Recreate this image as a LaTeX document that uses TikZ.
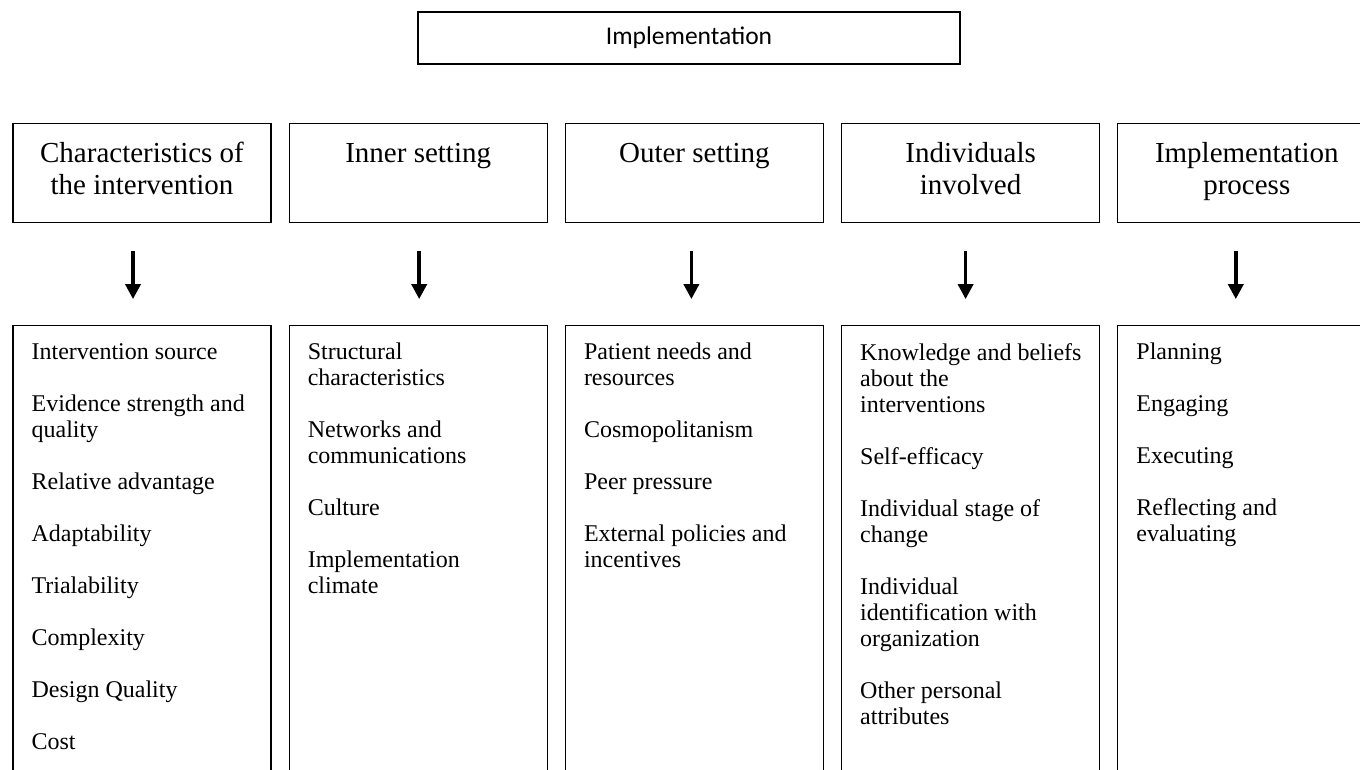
\documentclass[tikz,border=0pt]{standalone}
\usepackage{fontspec}
\setmainfont{Liberation Serif}
\newfontfamily\calib{Carlito}
\usetikzlibrary{positioning,arrows.meta}

\newcommand{\nxt}{\\[\baselineskip]}

\begin{document}
\begin{tikzpicture}[
  x=1pt, y=1pt,
  node distance=102pt and 17pt,
  topbox/.style={draw, line width=1.2pt, minimum width=542pt, minimum height=52pt,
                 inner sep=0pt, font=\calib\fontsize{25.5}{30}\selectfont},
  head/.style={draw, line width=1.2pt, minimum width=258pt, minimum height=99pt,
               inner sep=0pt, align=center, text height=53pt, text depth=10pt,
               font=\fontsize{29}{32}\selectfont},
  col/.style={draw, line width=1.2pt, minimum width=258pt, minimum height=470pt,
              anchor=north},
  items/.style={align=left, anchor=north west, inner sep=0pt,
                font=\fontsize{24}{26}\selectfont},
  arr/.style={-{Triangle[length=15pt, width=15pt]}, line width=3.6pt,
              shorten <=28pt, shorten >=26pt},
]
\clip (0,0) rectangle (1360,-769);

% top title
\node[topbox] (impl) at (689,-38) {Implementation};

% the five domains
\node[head] (h1) at (142,-173) {Characteristics of\\the intervention};
\node[head, right=of h1] (h2) {Inner setting\\~};
\node[head, right=of h2] (h3) {Outer setting\\~};
\node[head, right=of h3] (h4) {Individuals\\involved};
\node[head, right=of h4] (h5) {Implementation\\process};

% constructs under each domain
\foreach \i/\dx in {1/-9,2/1,3/-3,4/-5,5/-11}{
  \node[col, below=of h\i.south] (b\i) {};
  \draw[arr] ([xshift=\dx pt]h\i.south) -- ([xshift=\dx pt]b\i.north);
}

\node[items] (l1) at ([shift={(19pt,-18pt)}]b1.north west)
  {Intervention source\nxt Evidence strength and\\quality\nxt Relative advantage\nxt
   Adaptability\nxt Trialability\nxt Complexity\nxt Design Quality\nxt Cost};
\node[items] (l2) at ([shift={(19pt,-18pt)}]b2.north west)
  {Structural\\characteristics\nxt Networks and\\communications\nxt Culture\nxt
   Implementation\\climate};
\node[items] (l3) at ([shift={(19pt,-18pt)}]b3.north west)
  {Patient needs and\\resources\nxt Cosmopolitanism\nxt Peer pressure\nxt
   External policies and\\incentives};
\node[items] (l4) at ([shift={(19pt,-18pt)}]b4.north west)
  {Knowledge and beliefs\\about the\\interventions\nxt Self-efficacy\nxt
   Individual stage of\\change\nxt Individual\\identification with\\organization\nxt
   Other personal\\attributes};
\node[items] (l5) at ([shift={(19pt,-18pt)}]b5.north west)
  {Planning\nxt Engaging\nxt Executing\nxt Reflecting and\\evaluating};
\end{tikzpicture}
\end{document}
